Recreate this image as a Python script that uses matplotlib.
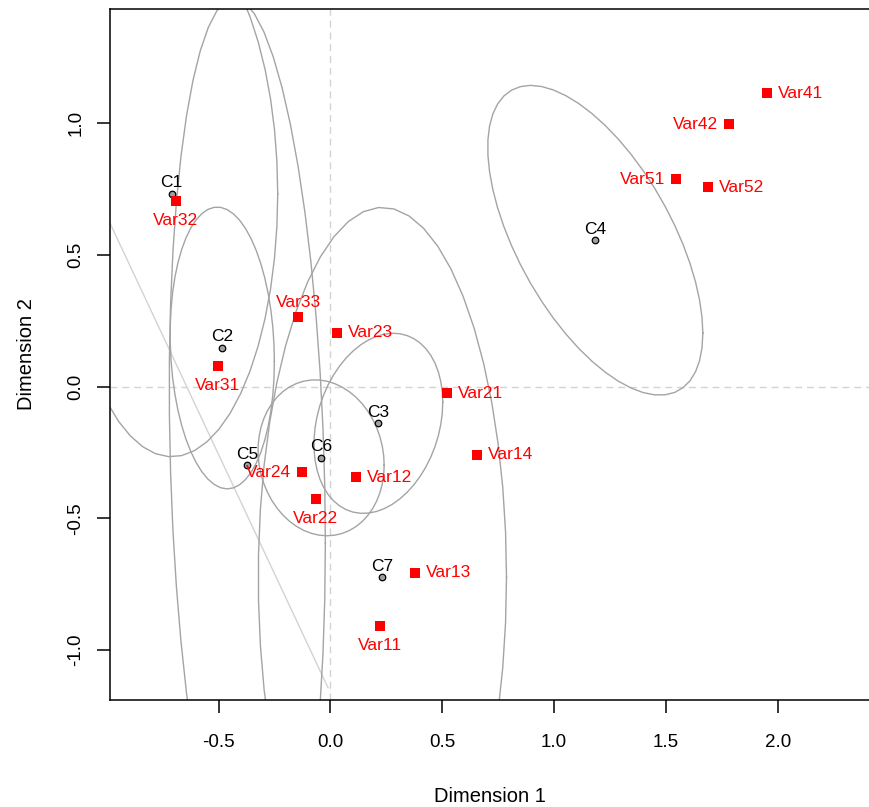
import numpy as np
import matplotlib
matplotlib.use('Agg')
from matplotlib import pyplot as plt

plt.rcParams['font.family'] = ['Liberation Sans', 'DejaVu Sans']
plt.rcParams['axes.unicode_minus'] = False

# variables (red squares)
var_names = ['Var11', 'Var12', 'Var13', 'Var14', 'Var21', 'Var22', 'Var23', 'Var24',
             'Var31', 'Var32', 'Var33', 'Var41', 'Var42', 'Var51', 'Var52']
var_x = [0.221, 0.114, 0.378, 0.655, 0.521, -0.065, 0.029, -0.127,
         -0.503, -0.691, -0.145, 1.952, 1.782, 1.545, 1.689]
var_y = [-0.909, -0.343, -0.707, -0.259, -0.024, -0.426, 0.204, -0.324,
         0.079, 0.704, 0.265, 1.114, 0.997, 0.788, 0.758]
var_pos = ['below', 'right', 'right', 'right', 'right', 'below', 'right', 'left',
           'below', 'below', 'above', 'right', 'left', 'left', 'right']

# cluster centres and their ellipses
c_names = ['C1', 'C2', 'C3', 'C4', 'C5', 'C6', 'C7']
c_x = [-0.710, -0.484, 0.214, 1.184, -0.372, -0.042, 0.232]
c_y = [0.732, 0.147, -0.139, 0.556, -0.298, -0.270, -0.724]
ell_a = [0.474, 0.233, 0.288, 0.481, 0.349, 0.282, 0.555]
ell_b = [0.998, 0.535, 0.342, 0.588, 1.773, 0.296, 1.405]
ell_r = [0.0, -0.096, 0.233, -0.6, -0.167, -0.095, 0.0]

# light grey segment
seg_x = [-1.2, -0.011]
seg_y = [1.008, -1.143]

x_ticks = [-0.5, 0.0, 0.5, 1.0, 1.5, 2.0]
y_ticks = [-1.0, -0.5, 0.0, 0.5, 1.0]

W, H = 869, 807
fig = plt.figure(figsize=(W / 100, H / 100), dpi=100)
ax = fig.add_axes([110 / W, 1 - 700 / H, 1 - 110 / W, 691 / H])
ax.set_xlim(-0.986, 2.408)
ax.set_ylim(-1.1895, 1.434)

ax.axhline(0, color='#d3d3d3', lw=1, ls=(0, (5, 3.5)), zorder=1)
ax.axvline(0, color='#d3d3d3', lw=1, ls=(0, (5, 3.5)), zorder=1)

ax.plot(seg_x, seg_y, color='#d3d3d3', lw=1, zorder=2)

t = np.linspace(0, 2 * np.pi, 52)
for cx, cy, a, b, r in zip(c_x, c_y, ell_a, ell_b, ell_r):
    d = np.arccos(r)
    ax.plot(cx + a * np.cos(t), cy + b * np.cos(t - d), color='#a4a4a4', lw=1, zorder=2)

ax.scatter(c_x, c_y, s=22, c='#a0a0a0', edgecolors='black', linewidths=0.9, zorder=3)
for nm, x, y in zip(c_names, c_x, c_y):
    ax.annotate(nm, (x, y), xytext=(0, 8), textcoords='offset points',
                ha='center', va='center', fontsize=12.5, color='black', zorder=4)

ax.scatter(var_x, var_y, s=58, marker='s', c='red', linewidths=0, zorder=5)
offs = {'right': ((8, 0), 'left'), 'left': ((-8, 0), 'right'),
        'below': ((0, -14), 'center'), 'above': ((0, 10.5), 'center')}
for nm, x, y, p in zip(var_names, var_x, var_y, var_pos):
    o, ha = offs[p]
    ax.annotate(nm, (x, y), xytext=o, textcoords='offset points',
                ha=ha, va='center', fontsize=12.5, color='red', zorder=6)

ax.spines['right'].set_visible(False)
for s in ['left', 'bottom', 'top']:
    ax.spines[s].set_linewidth(1.1)

ax.set_xticks(x_ticks)
ax.set_xticklabels(['%.1f' % v for v in x_ticks])
ax.set_yticks(y_ticks)
ax.set_yticklabels(['%.1f' % v for v in y_ticks], rotation=90, va='center')
ax.tick_params(axis='both', length=9.5, width=1.1, labelsize=13.5)
ax.tick_params(axis='x', pad=15)
ax.tick_params(axis='y', pad=9)

fig.text(489.5 / W, 1 - 797 / H, 'Dimension 1', ha='center', va='center', fontsize=14.5)
fig.text(27 / W, 1 - 354.5 / H, 'Dimension 2', ha='center', va='center', rotation=90, fontsize=14.5)

fig.savefig('out.png', dpi=100)
